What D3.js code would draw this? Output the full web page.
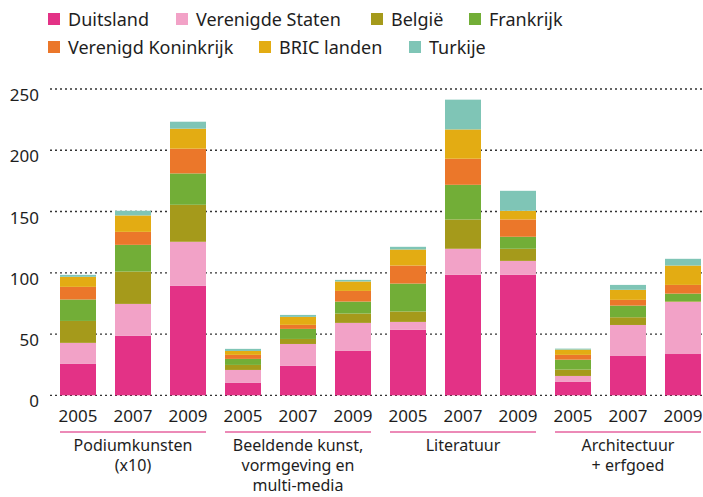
<!DOCTYPE html>
<html>
<head>
<meta charset="utf-8">
<script src="https://cdn.jsdelivr.net/npm/d3@7"></script>
<style>
  html, body { margin: 0; padding: 0; background: #fff; }
  svg { display: block; font-family: "Noto Sans", sans-serif; }
</style>
</head>
<body>
<svg id="chart" width="703" height="497"></svg>
<script>
// ---- data ----
const groups = [
  ["Podiumkunsten", "(x10)"],
  ["Beeldende kunst,", "vormgeving en", "multi-media"],
  ["Literatuur"],
  ["Architectuur", "+ erfgoed"]
];
const years = ["2005", "2007", "2009"];
const seriesNames = ["Duitsland", "Verenigde Staten", "België", "Frankrijk", "Verenigd Koninkrijk", "BRIC landen", "Turkije"];
const seriesColors = ["#e33286", "#f2a2c7", "#a59a1b", "#72ae37", "#eb772a", "#e3ac13", "#7fc5b6"];
const duitsland   = [25.6, 48.5, 89.3, 10.1, 24.0, 36.2, 53.4, 98.3, 98.3, 10.9, 32.1, 33.7];
const verenigdeStaten = [17.2, 26.1, 36.0, 10.6, 17.9, 22.9, 6.5, 21.3, 11.4, 4.9, 25.3, 42.5];
const belgie      = [17.9, 26.4, 30.2, 4.1, 4.1, 7.6, 8.5, 23.9, 9.9, 5.2, 6.3, 0.5];
const frankrijk   = [17.5, 21.8, 25.6, 4.9, 8.2, 9.8, 22.8, 28.3, 9.8, 8.1, 9.5, 6.3];
const verenigdKoninkrijk = [10.3, 10.6, 20.2, 3.3, 3.3, 8.7, 14.7, 21.3, 14.1, 3.9, 4.7, 7.1];
const bricLanden  = [8.2, 13.4, 16.3, 3.2, 6.5, 7.7, 13.1, 23.9, 7.1, 4.3, 8.2, 15.8];
const turkije     = [1.6, 3.8, 5.7, 1.7, 1.6, 1.3, 2.2, 24.3, 16.3, 0.8, 4.0, 5.5];
const yTicks = [0, 50, 100, 150, 200, 250];

// ---- build table ----
const seriesValues = [duitsland, verenigdeStaten, belgie, frankrijk, verenigdKoninkrijk, bricLanden, turkije];
const rows = [];
groups.forEach((g, gi) => years.forEach((y, yi) => {
  const idx = gi * years.length + yi;
  const r = { key: idx, group: gi, year: y };
  seriesNames.forEach((s, si) => r[s] = seriesValues[si][idx]);
  rows.push(r);
}));

const svg = d3.select("#chart");
const textColor = "#1e1e1e";

const x = d3.scaleBand()
  .domain(rows.map(r => r.key))
  .range([50.5, 710.5])
  .paddingInner(19 / 55)
  .paddingOuter(9.5 / 55);
const y = d3.scaleLinear().domain([0, 250]).range([395.3, 89]);

// gridlines
svg.append("g").selectAll("line").data(yTicks).join("line")
  .attr("x1", 50).attr("x2", 703)
  .attr("y1", d => y(d)).attr("y2", d => y(d))
  .attr("stroke", "#333").attr("stroke-width", 1.3)
  .attr("stroke-dasharray", "2,3");

// y tick labels
svg.append("g").selectAll("text").data(yTicks).join("text")
  .attr("x", 39).attr("y", d => y(d) + 12)
  .attr("text-anchor", "end")
  .attr("font-size", 17).attr("fill", textColor)
  .text(d => d);

// stacked bars
const stack = d3.stack().keys(seriesNames)(rows);
svg.append("g").selectAll("g").data(stack).join("g")
  .attr("fill", (d, i) => seriesColors[i])
  .selectAll("rect").data(d => d).join("rect")
  .attr("x", d => x(d.data.key))
  .attr("width", x.bandwidth())
  .attr("y", d => y(d[1]))
  .attr("height", d => Math.max(0, y(d[0]) - y(d[1])));

// year labels
svg.append("g").selectAll("text").data(rows).join("text")
  .attr("x", d => x(d.key) + x.bandwidth() / 2)
  .attr("y", 422)
  .attr("text-anchor", "middle")
  .attr("font-size", 17).attr("fill", textColor)
  .text(d => d.year);

// group lines + labels
const gg = svg.append("g").selectAll("g").data(groups).join("g");
gg.append("line")
  .attr("x1", (d, i) => x(i * 3))
  .attr("x2", (d, i) => x(i * 3 + 2) + x.bandwidth())
  .attr("y1", 432).attr("y2", 432)
  .attr("stroke", "#e6639f").attr("stroke-width", 1.6);
gg.append("text")
  .attr("text-anchor", "middle")
  .attr("font-size", 16).attr("fill", textColor)
  .selectAll("tspan").data((d, i) => d.map(t => ({ t, i }))).join("tspan")
  .attr("x", d => (x(d.i * 3) + x(d.i * 3 + 2) + x.bandwidth()) / 2)
  .attr("y", (d, j) => 451 + j * 20)
  .text(d => d.t);

// legend
const legendPos = [[48, 13], [176, 13], [371, 13], [469, 13], [48, 41], [259, 41], [409, 41]];
const lg = svg.append("g").selectAll("g").data(seriesNames).join("g")
  .attr("transform", (d, i) => `translate(${legendPos[i][0]},${legendPos[i][1]})`);
lg.append("rect").attr("width", 12).attr("height", 12)
  .attr("fill", (d, i) => seriesColors[i]);
lg.append("text").attr("x", 20).attr("y", 12.5)
  .attr("font-size", 18).attr("fill", textColor)
  .text(d => d);
</script>
</body>
</html>
